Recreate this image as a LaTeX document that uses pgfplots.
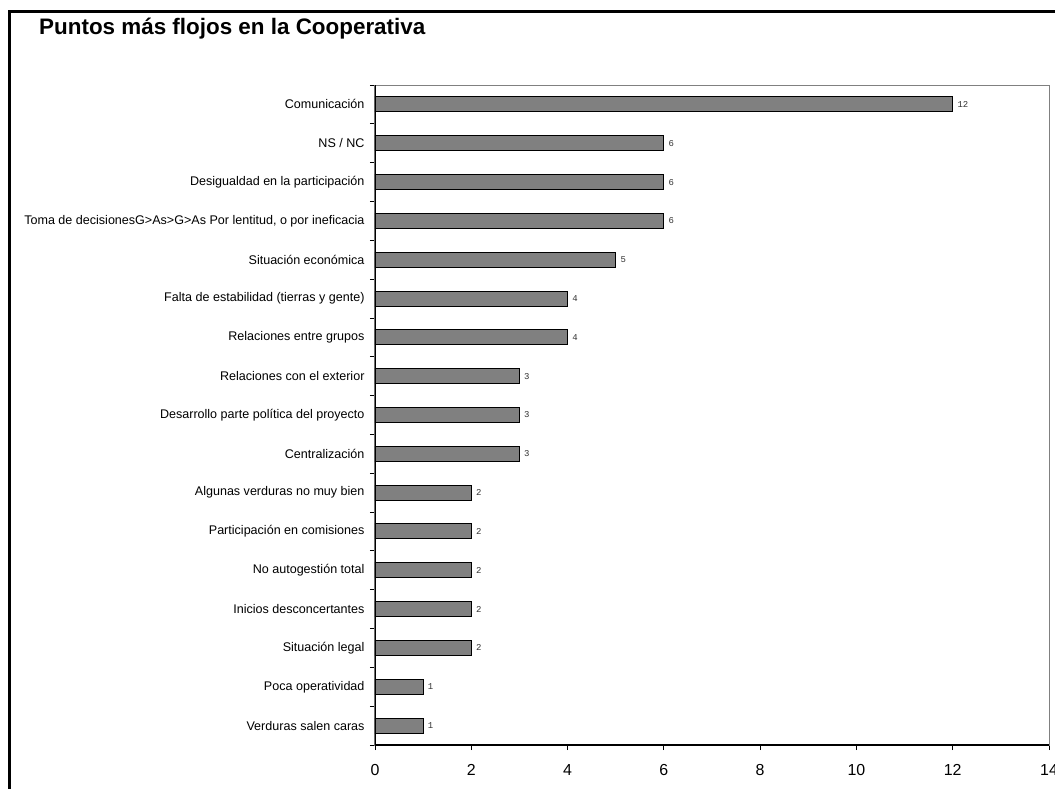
\documentclass[border=0pt]{standalone}
\usepackage{fontspec}
\setmainfont{Liberation Sans}
\newfontfamily\monofont{Liberation Mono}
\usepackage{pgfplots}
\pgfplotsset{compat=1.18}
\definecolor{barfill}{RGB}{128,128,128}
\definecolor{framegray}{RGB}{128,128,128}
\begin{document}
\begin{tikzpicture}
\clip (-375bp,-44bp) rectangle (680bp,745bp);
\fill[white] (-375bp,-44bp) rectangle (680bp,745bp);
\begin{axis}[
  at={(0,0)}, anchor=south west,
  scale only axis, width=674bp, height=660bp,
  xbar, bar width=15bp,
  xmin=0, xmax=14, xtick={0,2,...,14},
  ymin=-0.5, ymax=16.5, y dir=reverse,
  ytick={-0.5,0.5,...,16.5}, yticklabels={},
  extra y ticks={0,1,...,16},
  extra y tick labels={Comunicación,NS / NC,Desigualdad en la participación,{Toma de decisionesG>As>G>As Por lentitud, o por ineficacia},Situación económica,Falta de estabilidad (tierras y gente),Relaciones entre grupos,Relaciones con el exterior,Desarrollo parte política del proyecto,Centralización,Algunas verduras no muy bien,Participación en comisiones,No autogestión total,Inicios desconcertantes,Situación legal,Poca operatividad,Verduras salen caras},
  extra y tick style={tick style={draw=none}},
  yticklabel style={font=\fontsize{12.6}{12.6}\selectfont, xshift=-2bp},
  xticklabel style={font=\fontsize{16}{16}\selectfont, yshift=-11bp},
  tick align=outside, tick pos=left,
  major tick length=5bp,
  tick style={black, line width=0.8bp},
  axis line style={draw=framegray, line width=1bp},
  /pgf/number format/assume math mode=true,
  nodes near coords,
  nodes near coords style={font=\monofont\fontsize{9}{9}\selectfont, anchor=west, xshift=1bp, text=black!80},
]
\addplot[fill=barfill, draw=black, line width=1bp] coordinates {
(12,0) (6,1) (6,2) (6,3) (5,4) (4,5) (4,6) (3,7) (3,8) (3,9)
(2,10) (2,11) (2,12) (2,13) (2,14) (1,15) (1,16)
};
\draw[black, line width=1.2bp] (axis cs:0,-0.5) -- (axis cs:0,16.5) -- (axis cs:14,16.5);
\end{axis}
\draw[black, line width=3bp] (-365.5bp,-60bp) -- (-365.5bp,733bp) -- (700bp,733bp);
\node[anchor=base west, inner sep=0pt, font=\bfseries\fontsize{22.5}{22.5}\selectfont] at (-336bp,710.5bp) {Puntos más flojos en la Cooperativa};
\end{tikzpicture}
\end{document}
